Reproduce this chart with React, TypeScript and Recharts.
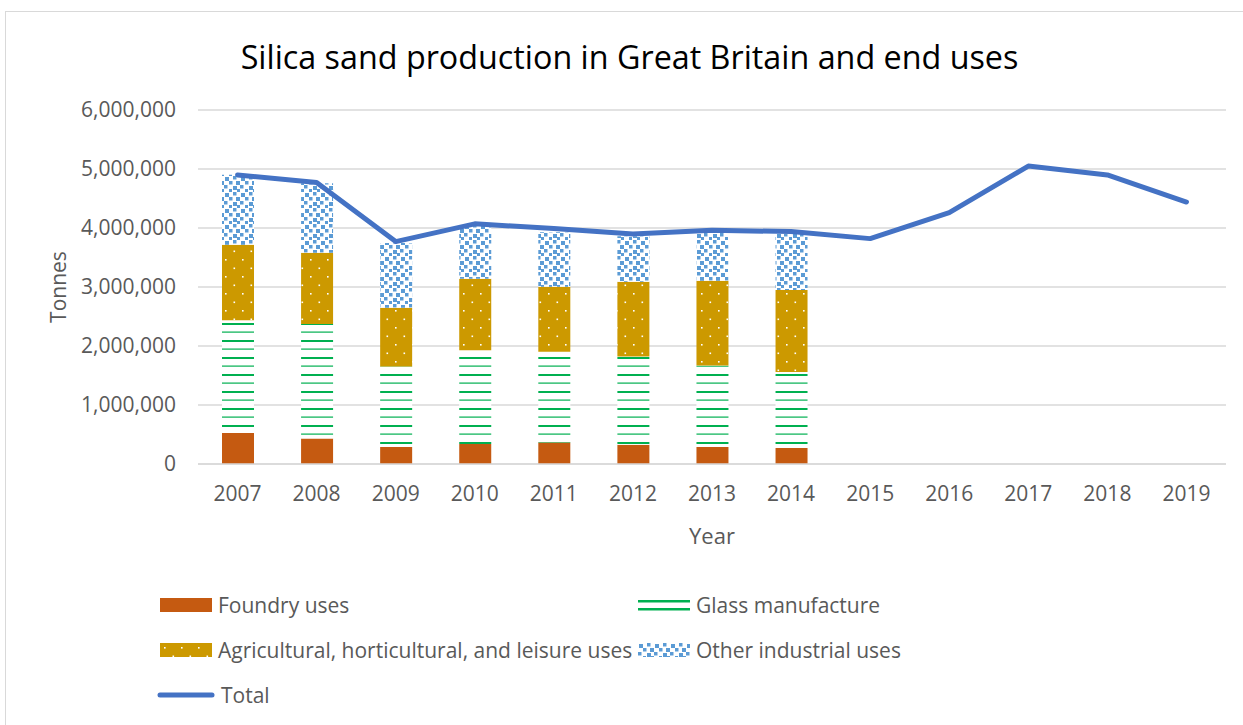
import React from "react";
import { Bar, CartesianGrid, ComposedChart, Line, XAxis, YAxis } from "recharts";

// years on the category axis
const years = ["2007", "2008", "2009", "2010", "2011", "2012", "2013", "2014", "2015", "2016", "2017", "2018", "2019"];

// end-use breakdown (tonnes) – only published up to 2014
const foundry = [525000, 434000, 288000, 338000, 366000, 327000, 288000, 271000];
const glass = [1910000, 1939000, 1366000, 1588000, 1537000, 1493000, 1382000, 1289000];
const agri = [1283000, 1207000, 996000, 1214000, 1102000, 1270000, 1437000, 1390000];
const other = [1186000, 1180000, 1095000, 900000, 925000, 770000, 823000, 950000];
const total = [4900000, 4770000, 3770000, 4070000, 3990000, 3900000, 3960000, 3940000, 3820000, 4260000, 5050000, 4900000, 4440000];

const yTicks = [0, 1000000, 2000000, 3000000, 4000000, 5000000, 6000000];

const data = years.map((year, i) => ({
  year,
  foundry: foundry[i] ?? null,
  glass: glass[i] ?? null,
  agri: agri[i] ?? null,
  other: other[i] ?? null,
  total: total[i],
}));

const FONT = '"Open Sans", sans-serif';
const TEXT = "#595959";
const GRID = "#d9d9d9";

const COLORS = {
  foundry: "#c55a11",
  glass: "#00b050",
  agri: "#cc9900",
  other: "#5b9bd5",
  total: "#4472c4",
};

// confetti squares for "Other industrial uses" (x, y, size) inside a 16px tile
const confetti = [
  [1, 1, 4], [9, 0, 3.5], [5, 5, 3.5], [12, 5, 4], [0, 9, 3.5],
  [9, 10, 4], [5, 13, 3], [13, 13, 3],
];

// excel-style fill patterns, shared by the bars and the legend swatches
function PatternDefs() {
  return (
    <svg width={0} height={0} style={{ position: "absolute" }}>
      <defs>
        <pattern id="glassPat" width={17} height={17} patternUnits="userSpaceOnUse">
          <rect width={17} height={17} fill="#fff" />
          <rect y={0} width={17} height={2} fill={COLORS.glass} />
          <rect y={8.5} width={17} height={1.2} fill={COLORS.glass} />
        </pattern>
        <pattern id="agriPat" width={17} height={17} patternUnits="userSpaceOnUse">
          <rect width={17} height={17} fill={COLORS.agri} />
          <rect x={4} y={4} width={1.6} height={1.6} fill="#fff" />
          <rect x={12.5} y={12.5} width={1.6} height={1.6} fill="#fff" />
        </pattern>
        <pattern id="otherPat" width={16} height={16} patternUnits="userSpaceOnUse">
          <rect width={16} height={16} fill="#fff" />
          {confetti.map(([x, y, s], i) => (
            <rect key={i} x={x} y={y} width={s} height={s} fill={COLORS.other} />
          ))}
        </pattern>
      </defs>
    </svg>
  );
}

function Swatch({ fill }: { fill: string }) {
  return (
    <svg width={52} height={14} style={{ display: "block" }}>
      <rect width={52} height={14} fill={fill} />
    </svg>
  );
}

function GlassSwatch() {
  return (
    <svg width={52} height={14} style={{ display: "block" }}>
      <rect y={2} width={52} height={2.5} fill={COLORS.glass} />
      <rect y={10} width={52} height={2.5} fill={COLORS.glass} />
    </svg>
  );
}

function LineSwatch() {
  return (
    <svg width={58} height={14} style={{ display: "block" }}>
      <line x1={3} y1={7} x2={55} y2={7} stroke={COLORS.total} strokeWidth={5} strokeLinecap="round" />
    </svg>
  );
}

const legendItems = [
  { label: "Foundry uses", swatch: <Swatch fill={COLORS.foundry} />, x: 160, y: 605 },
  { label: "Glass manufacture", swatch: <GlassSwatch />, x: 638, y: 605 },
  { label: "Agricultural, horticultural, and leisure uses", swatch: <Swatch fill="url(#agriPat)" />, x: 160, y: 650 },
  { label: "Other industrial uses", swatch: <Swatch fill="url(#otherPat)" />, x: 638, y: 650 },
  { label: "Total", swatch: <LineSwatch />, x: 157, y: 695 },
];

export default function App() {
  return (
    <div
      style={{
        position: "fixed",
        left: 0,
        top: 0,
        width: 1243,
        height: 725,
        overflow: "hidden",
        background: "#fff",
        fontFamily: FONT,
      }}
    >
      <PatternDefs />
      <div
        style={{
          position: "absolute",
          left: 5,
          top: 11,
          width: 1300,
          height: 760,
          border: `1.5px solid ${GRID}`,
        }}
      />
      <div
        style={{
          position: "absolute",
          left: 0,
          width: 1259,
          top: 36,
          textAlign: "center",
          fontSize: 32.3,
          color: "#000",
          lineHeight: "40px",
        }}
      >
        Silica sand production in Great Britain and end uses
      </div>

      <div style={{ position: "absolute", left: 0, top: 0 }}>
        <ComposedChart
          width={1243}
          height={725}
          data={data}
          margin={{ top: 110, right: 17, bottom: 231, left: 0 }}
          barSize={32}
        >
          <CartesianGrid vertical={false} stroke={GRID} strokeWidth={1.3} />
          <XAxis
            dataKey="year"
            height={30}
            tickLine={false}
            axisLine={{ stroke: GRID, strokeWidth: 1.3 }}
            tickMargin={16}
            tick={{ fill: TEXT, fontSize: 21, fontFamily: FONT }}
          />
          <YAxis
            width={198}
            domain={[0, 6000000]}
            ticks={yTicks}
            tickFormatter={(v: number) => v.toLocaleString("en-US")}
            tickLine={false}
            axisLine={false}
            tickMargin={16}
            tick={{ fill: TEXT, fontSize: 21, fontFamily: FONT }}
          />
          <Bar dataKey="foundry" stackId="uses" fill={COLORS.foundry} isAnimationActive={false} />
          <Bar dataKey="glass" stackId="uses" fill="url(#glassPat)" isAnimationActive={false} />
          <Bar dataKey="agri" stackId="uses" fill="url(#agriPat)" isAnimationActive={false} />
          <Bar dataKey="other" stackId="uses" fill="url(#otherPat)" isAnimationActive={false} />
          <Line
            dataKey="total"
            type="linear"
            stroke={COLORS.total}
            strokeWidth={5}
            strokeLinejoin="round"
            strokeLinecap="round"
            dot={false}
            activeDot={false}
            isAnimationActive={false}
          />
        </ComposedChart>
      </div>

      <div
        style={{
          position: "absolute",
          left: 712,
          top: 535,
          transform: "translate(-50%, -50%)",
          fontSize: 22,
          color: TEXT,
          whiteSpace: "nowrap",
        }}
      >
        Year
      </div>
      <div
        style={{
          position: "absolute",
          left: 58,
          top: 287,
          transform: "translate(-50%, -50%) rotate(-90deg)",
          fontSize: 21,
          color: TEXT,
          whiteSpace: "nowrap",
        }}
      >
        Tonnes
      </div>

      {legendItems.map((item) => (
        <div
          key={item.label}
          style={{
            position: "absolute",
            left: item.x,
            top: item.y,
            transform: "translateY(-50%)",
            display: "flex",
            alignItems: "center",
            gap: 6,
            fontSize: 21,
            color: TEXT,
            whiteSpace: "nowrap",
          }}
        >
          {item.swatch}
          <span>{item.label}</span>
        </div>
      ))}
    </div>
  );
}
